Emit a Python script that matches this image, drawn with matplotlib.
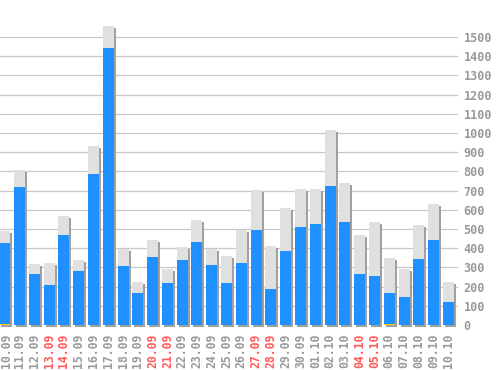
import matplotlib
matplotlib.use('Agg')
import matplotlib.pyplot as plt
import matplotlib.transforms as mtransforms
import numpy as np

dates = ['10.09', '11.09', '12.09', '13.09', '14.09', '15.09', '16.09', '17.09',
         '18.09', '19.09', '20.09', '21.09', '22.09', '23.09', '24.09', '25.09',
         '26.09', '27.09', '28.09', '29.09', '30.09', '01.10', '02.10', '03.10',
         '04.10', '05.10', '06.10', '07.10', '08.10', '09.10', '10.10']
weekends = ['13.09', '14.09', '20.09', '21.09', '27.09', '28.09', '04.10', '05.10']

# total (grey) and main part (blue), plus tiny yellow part
totals = [488, 805, 317, 322, 566, 338, 935, 1558, 398, 223, 441, 291, 405, 545,
          397, 358, 495, 701, 410, 608, 706, 706, 1018, 738, 468, 535, 348, 291,
          519, 628, 223]
blue = [428, 718, 265, 208, 468, 280, 784, 1444, 306, 166, 353, 218, 338, 431,
        312, 218, 322, 494, 187, 384, 509, 525, 722, 535, 265, 255, 166, 145,
        343, 441, 119]
yellow = [6, 0, 0, 0, 0, 0, 0, 0, 0, 0, 0, 0, 0, 0, 0, 0, 0, 0, 0, 0, 0, 0, 0, 0,
          0, 0, 6, 0, 0, 0, 0]

fig = plt.figure(figsize=(4.98, 3.70), dpi=100)
ax = fig.add_axes([0, 45 / 370, 458 / 498, 325 / 370])

x = np.arange(len(dates))
w = 0.744

# gridlines
for v in range(0, 1600, 100):
    ax.axhline(v, color='#c8c8c8', lw=0.9, zorder=0)

shadow = mtransforms.offset_copy(ax.transData, fig=fig, x=2, y=-2, units='dots')
ax.bar(x, totals, w, color='#a0a0a0', transform=shadow, zorder=1, clip_on=False)
ax.bar(x, totals, w, color='#e0e0e0', zorder=2)
ax.bar(x, blue, w, color='#1e90ff', zorder=3)
ax.bar(x, yellow, w, color='#ffcc00', zorder=4)

ax.set_xlim(-0.318, 30.65)
ax.set_ylim(0, 1693)
for s in ax.spines.values():
    s.set_visible(False)

ax.yaxis.tick_right()
ax.set_yticks(range(0, 1600, 100))
ax.tick_params(axis='y', length=0, pad=4, labelsize=8.5, labelcolor='#999999')
ax.set_xticks(x)
ax.set_xticklabels(dates, rotation=90)
ax.tick_params(axis='x', length=0, pad=6, labelsize=8.3)
for lab in ax.get_xticklabels() + ax.get_yticklabels():
    lab.set_family('DejaVu Sans Mono')
    lab.set_fontweight('bold')
for lab in ax.get_xticklabels():
    lab.set_color('#ff5a5a' if lab.get_text() in weekends else '#999999')

# nudge the first date label so it is not clipped by the left edge
first = ax.get_xticklabels()[0]
first.set_transform(first.get_transform() +
                    mtransforms.ScaledTranslation(1.5 / 100, 0, fig.dpi_scale_trans))

fig.savefig('out.png', dpi=100, facecolor='white')
